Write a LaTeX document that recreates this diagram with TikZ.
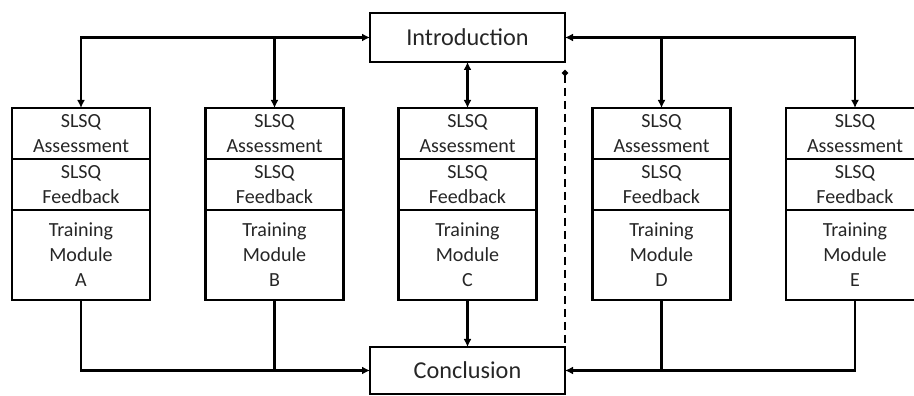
\documentclass[tikz,border=0pt]{standalone}
\usepackage{fontspec}
\setmainfont{Carlito}
\usepackage{xcolor}
\usepackage{tikz}
\usetikzlibrary{arrows.meta,positioning}

\tikzset{
    part/.style={
        draw,
        line width=1.3pt,
        minimum width=2.76cm,
        inner sep=0pt,
        outer sep=0pt,
        align=center,
        text=black!85,
        font=\fontsize{11.4}{14.2}\selectfont
    },
    slsq/.style={part, minimum height=1.02cm},
    module/.style={part, minimum height=1.8cm},
    phase/.style={
        draw,
        line width=1.3pt,
        minimum width=3.9cm,
        outer sep=0pt,
        text=black!85,
        font=\fontsize{13.8}{16}\selectfont
    },
    link/.style={line width=1.3pt, -{Latex[length=1.6mm,width=1.6mm]}},
    twoway/.style={line width=1.3pt, {Latex[length=1.6mm,width=1.6mm]}-{Latex[length=1.6mm,width=1.6mm]}},
    plain/.style={line width=1.3pt}
}

\begin{document}
\begin{tikzpicture}
                \useasboundingbox (0,0) rectangle (18.28,7.92);
                \clip (0,0) rectangle (18.28,7.92);

                % start and end of the course
                \node[phase, minimum height=0.98cm] (intro) at (9.35,7.17) {Introduction};
                \node[phase, minimum height=0.94cm] (concl) at (9.35,0.51) {Conclusion};

                % module A
                \node[slsq, anchor=north] (sa-A) at (1.62,5.76) {SLSQ\\Assessment};
                \node[slsq, below=0pt of sa-A] (sf-A) {SLSQ\\Feedback};
                \node[module, below=0pt of sf-A] (tm-A) {Training\\Module\\A};

                % module B
                \node[slsq, anchor=north] (sa-B) at (5.49,5.76) {SLSQ\\Assessment};
                \node[slsq, below=0pt of sa-B] (sf-B) {SLSQ\\Feedback};
                \node[module, below=0pt of sf-B] (tm-B) {Training\\Module\\B};

                % module C
                \node[slsq, anchor=north] (sa-C) at (9.35,5.76) {SLSQ\\Assessment};
                \node[slsq, below=0pt of sa-C] (sf-C) {SLSQ\\Feedback};
                \node[module, below=0pt of sf-C] (tm-C) {Training\\Module\\C};

                % module D
                \node[slsq, anchor=north] (sa-D) at (13.23,5.76) {SLSQ\\Assessment};
                \node[slsq, below=0pt of sa-D] (sf-D) {SLSQ\\Feedback};
                \node[module, below=0pt of sf-D] (tm-D) {Training\\Module\\D};

                % module E
                \node[slsq, anchor=north] (sa-E) at (17.10,5.76) {SLSQ\\Assessment};
                \node[slsq, below=0pt of sa-E] (sf-E) {SLSQ\\Feedback};
                \node[module, below=0pt of sf-E] (tm-E) {Training\\Module\\E};

                % introduction to the modules
                \draw[twoway] (intro.west) -| (sa-A.north);
                \draw[link] (sa-B.north |- intro.west) -- (sa-B.north);
                \draw[twoway] (intro.south) -- (sa-C.north);
                \draw[twoway] (intro.east) -| (sa-E.north);
                \draw[link] (sa-D.north |- intro.east) -- (sa-D.north);

                % modules to the conclusion
                \draw[link] (tm-A.south) |- (concl.west);
                \draw[plain] (tm-B.south) -- (tm-B.south |- concl.west);
                \draw[link] (tm-C.south) -- (concl.north);
                \draw[link] (tm-E.south) |- (concl.east);
                \draw[plain] (tm-D.south) -- (tm-D.south |- concl.east);

                % shortcut straight to the end
                \coordinate[below=1.6mm of intro.south east] (skip);
                \draw[plain, dash pattern=on 1.6mm off 1mm, {Circle[length=1.2mm]}-] (skip) -- (concl.north east);

            \end{tikzpicture}
\end{document}
